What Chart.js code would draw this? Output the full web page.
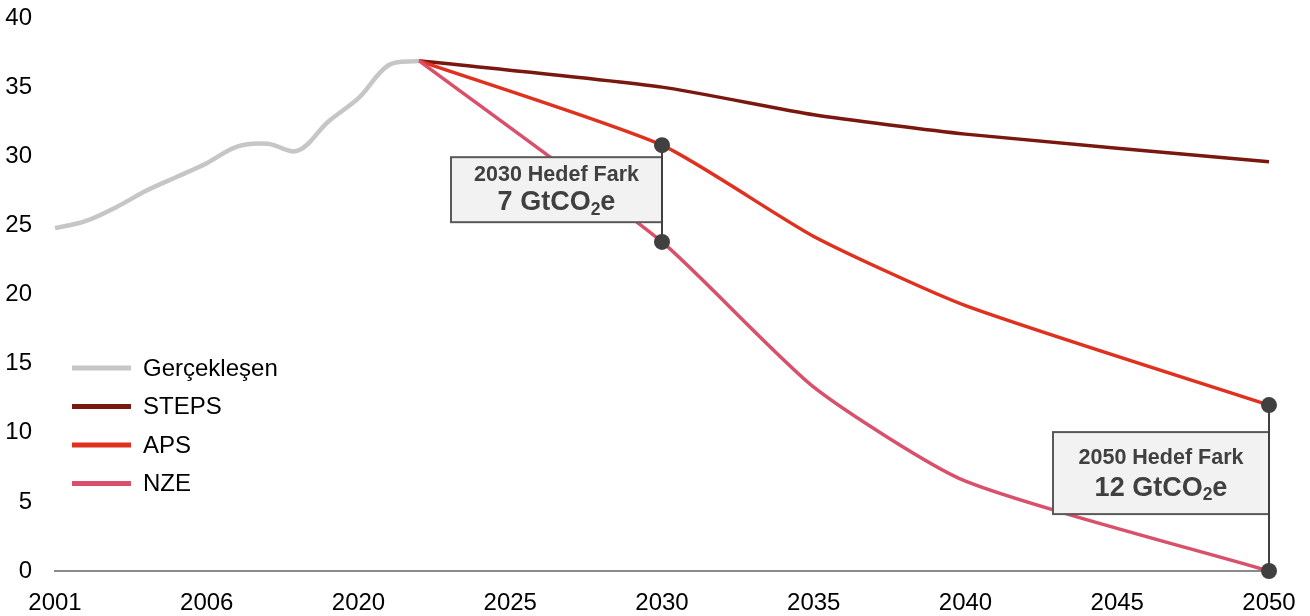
<!DOCTYPE html>
<html>
<head>
<meta charset="utf-8">
<title>Emisyon senaryoları</title>
<script src="https://cdn.jsdelivr.net/npm/chart.js@4.4.1/dist/chart.umd.min.js"></script>
<style>
  html, body { margin: 0; padding: 0; background: #ffffff; }
  #wrap { width: 1310px; height: 616px; position: relative; }
</style>
</head>
<body>
<div id="wrap"><canvas id="chart" width="1310" height="616"></canvas></div>
<script>
// Category axis: 2001-2010 history, then 2020-2050
const categories = [
  '2001','2002','2003','2004','2005','2006','2007','2008','2009','2010',
  '2020','2021','2022','2023','2024','2025','2026','2027','2028','2029',
  '2030','2031','2032','2033','2034','2035','2036','2037','2038','2039',
  '2040','2041','2042','2043','2044','2045','2046','2047','2048','2049','2050'
];
const tickLabels = ['2001','2006','2020','2025','2030','2035','2040','2045','2050'];

// Realised emissions (GtCO2e)
const historyYears  = ['2001','2002','2003','2004','2005','2006','2007','2008','2009','2010','2020','2021','2022'];
const historyValues = [24.8, 25.3, 26.3, 27.5, 28.5, 29.5, 30.7, 30.9, 30.4, 32.5, 34.2, 36.6, 36.9];

// Scenario paths (GtCO2e)
const scenarioYears = ['2022','2030','2035','2040','2050'];
const stepsValues   = [36.9, 35.0, 33.0, 31.6, 29.6];
const apsValues     = [36.9, 30.8, 24.2, 19.2, 12.0];
const nzeValues     = [36.9, 23.8, 13.3, 6.5, 0.0];

// Target gap markers between APS and NZE
const gapYears = ['2030', '2050'];

const FONT = '"Liberation Sans", Arial, Helvetica, sans-serif';

function toSeries(years, values) {
  return categories.map(c => {
    const i = years.indexOf(c);
    return i >= 0 ? values[i] : null;
  });
}

const datasets = [
  { label: 'Gerçekleşen', data: toSeries(historyYears, historyValues), borderColor: '#c6c6c6', borderWidth: 4.5, tension: 0.35, order: 4 },
  { label: 'STEPS', data: toSeries(scenarioYears, stepsValues), borderColor: '#7a1810', borderWidth: 3.5, tension: 0.2, order: 3 },
  { label: 'APS',   data: toSeries(scenarioYears, apsValues),   borderColor: '#e0301e', borderWidth: 3.5, tension: 0.2, order: 2 },
  { label: 'NZE',   data: toSeries(scenarioYears, nzeValues),   borderColor: '#d9506a', borderWidth: 3.5, tension: 0.2, order: 1 }
].map(d => Object.assign(d, { pointRadius: 0, pointHoverRadius: 0, spanGaps: true, fill: false, borderCapStyle: 'butt' }));

// Legend drawn inside the plot, lower left
const insideLegend = {
  id: 'insideLegend',
  afterDraw(chart) {
    const ctx = chart.ctx;
    const x0 = 72, x1 = 131, tx = 143;
    const ys = [368, 406.5, 445, 483.5];
    ctx.save();
    ctx.font = '24px ' + FONT;
    ctx.textBaseline = 'middle';
    ctx.textAlign = 'left';
    [0, 1, 2, 3].forEach((di, k) => {
      const ds = chart.data.datasets[di];
      ctx.strokeStyle = ds.borderColor;
      ctx.lineWidth = 5;
      ctx.beginPath();
      ctx.moveTo(x0, ys[k]);
      ctx.lineTo(x1, ys[k]);
      ctx.stroke();
      ctx.fillStyle = '#000000';
      ctx.fillText(ds.label, tx, ys[k] + 1);
    });
    ctx.restore();
  }
};

// Gap brackets with labelled boxes
const gapBoxes = {
  id: 'gapBoxes',
  afterDatasetsDraw(chart) {
    const ctx = chart.ctx;
    const xs = chart.scales.x, ys = chart.scales.y;
    const layouts = {
      '2030': { width: 211, height: 65, top: 12, l1: 17.5, l2: 45.5 },
      '2050': { width: 216, height: 82, top: 27, l1: 26,   l2: 56   }
    };
    gapYears.forEach(yr => {
      const i = scenarioYears.indexOf(yr);
      const upper = apsValues[i], lower = nzeValues[i];
      const gap = Math.round(upper - lower);
      const px = xs.getPixelForValue(categories.indexOf(yr));
      const pyU = ys.getPixelForValue(upper);
      const pyL = ys.getPixelForValue(lower);
      const L = layouts[yr];
      const bx = px - L.width, by = pyU + L.top;

      ctx.save();
      ctx.fillStyle = '#f2f2f2';
      ctx.fillRect(bx, by, L.width, L.height);
      ctx.strokeStyle = '#595959';
      ctx.lineWidth = 2;
      ctx.strokeRect(bx, by, L.width, L.height);

      const cx = bx + L.width / 2;
      ctx.fillStyle = '#404040';
      ctx.textBaseline = 'middle';
      ctx.textAlign = 'center';
      ctx.font = 'bold 21.5px ' + FONT;
      ctx.fillText(yr + ' Hedef Fark', cx, by + L.l1);

      const big = 'bold 27px ' + FONT, small = 'bold 17.5px ' + FONT;
      const p1 = gap + ' GtCO', p2 = '2', p3 = 'e';
      ctx.font = big;
      const w1 = ctx.measureText(p1).width, w3 = ctx.measureText(p3).width;
      ctx.font = small;
      const w2 = ctx.measureText(p2).width;
      let x = cx - (w1 + w2 + w3) / 2;
      const yb = by + L.l2;
      ctx.textAlign = 'left';
      ctx.font = big;   ctx.fillText(p1, x, yb); x += w1;
      ctx.font = small; ctx.fillText(p2, x, yb + 7); x += w2;
      ctx.font = big;   ctx.fillText(p3, x, yb);

      ctx.strokeStyle = '#404040';
      ctx.lineWidth = 2;
      ctx.beginPath();
      ctx.moveTo(px, pyU);
      ctx.lineTo(px, pyL);
      ctx.stroke();
      ctx.fillStyle = '#404040';
      [pyU, pyL].forEach(py => {
        ctx.beginPath();
        ctx.arc(px, py, 8, 0, Math.PI * 2);
        ctx.fill();
      });
      ctx.restore();
    });
  }
};

new Chart(document.getElementById('chart').getContext('2d'), {
  type: 'line',
  data: { labels: categories, datasets },
  plugins: [gapBoxes, insideLegend],
  options: {
    responsive: false,
    animation: false,
    devicePixelRatio: 1,
    layout: { padding: { top: 18, right: 41, left: 0, bottom: 0 } },
    plugins: { legend: { display: false }, tooltip: { enabled: false } },
    scales: {
      x: {
        type: 'category',
        offset: false,
        grid: { display: false, drawTicks: false },
        border: { display: true, color: '#8a8a8a', width: 2 },
        ticks: {
          autoSkip: false,
          maxRotation: 0,
          padding: 18,
          color: '#000000',
          font: { family: FONT, size: 24 },
          callback(value) {
            const lab = categories[value];
            return tickLabels.includes(lab) ? lab : null;
          }
        },
        afterFit(scale) {
          scale.height = 45;
          scale.paddingLeft = 0;
          scale.paddingRight = 0;
        }
      },
      y: {
        min: 0,
        max: 40,
        grid: { display: false, drawTicks: false },
        border: { display: false },
        ticks: {
          stepSize: 5,
          padding: 23,
          color: '#000000',
          font: { family: FONT, size: 24 }
        },
        afterFit(scale) {
          scale.width = 55;
          scale.paddingTop = 0;
          scale.paddingBottom = 0;
        }
      }
    }
  }
});
</script>
</body>
</html>
